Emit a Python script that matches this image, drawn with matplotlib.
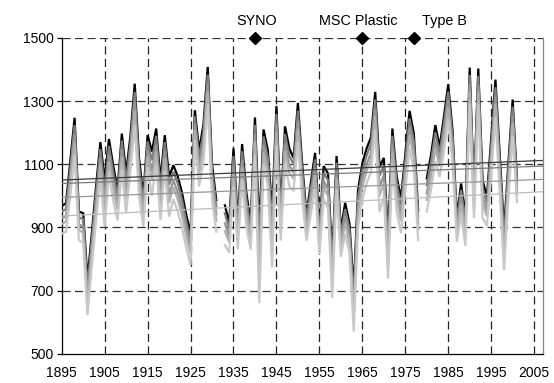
import numpy as np
import matplotlib
matplotlib.use("Agg")
import matplotlib.pyplot as plt

plt.rcParams['font.family'] = ['Liberation Sans', 'DejaVu Sans']

years = list(range(1895, 2002))
nan = float('nan')

s1 = [968, 976, 1110, 1247, 950, 945, 735, 880, 1030, 1170,
      1050, 1180, 1095, 1020, 1197, 1072, 1190, 1355, 1120, 1000,
      1192, 1140, 1213, 1050, 1192, 1060, 1097, 1062, 1010, 940,
      880, 1271, 1144, 1225, 1408, 1100, 986, nan, 970, 913,
      1150, 920, 1164, 1010, 913, 1248, 900, 1210, 1144, 950,
      1284, 954, 1220, 1150, 1120, 1294, 1100, 940, 1040, 1136,
      891, 1094, 1071, 797, 1126, 891, 978, 913, 702, 1018,
      1102, 1150, 1185, 1329, 1092, 1120, 870, 1213, 1060, 992,
      1130, 1269, 1197, 954, nan, 1055, 1130, 1224, 1155, 1250,
      1353, 1208, 934, 1039, 934, 1406, 1010, 1403, 1050, 995,
      1180, 1368, 1130, 891, 1100, 1305, 1050]
s2 = [950, 958, 1088, 1224, 932, 926, 712, 859, 1008, 1148,
      1020, 1158, 1073, 1000, 1175, 1047, 1168, 1329, 1096, 980,
      1172, 1112, 1190, 1025, 1170, 1035, 1076, 1040, 988, 919,
      860, 1252, 1121, 1202, 1384, 1078, 966, nan, 945, 894,
      1126, 902, 1141, 988, 896, 1224, 852, 1188, 1121, 915,
      1259, 935, 1196, 1126, 1100, 1269, 1078, 924, 1020, 1115,
      876, 1073, 1049, 773, 1105, 874, 958, 894, 676, 994,
      1080, 1128, 1163, 1305, 1063, 1096, 844, 1190, 1038, 970,
      1108, 1245, 1174, 935, nan, 1034, 1108, 1201, 1136, 1228,
      1330, 1186, 918, 1019, 915, 1383, 994, 1380, 1026, 977,
      1156, 1344, 1106, 866, 1078, 1282, 1036]
s3 = [928, 936, 1060, 1194, 910, 902, 684, 833, 980, 1120,
      983, 1130, 1046, 976, 1147, 1015, 1140, 1297, 1066, 956,
      1146, 1077, 1162, 993, 1142, 1003, 1049, 1012, 960, 893,
      835, 1228, 1093, 1173, 1355, 1050, 941, nan, 913, 871,
      1096, 880, 1113, 960, 876, 1195, 792, 1160, 1093, 870,
      1228, 911, 1166, 1096, 1074, 1238, 1050, 903, 995, 1088,
      857, 1047, 1021, 743, 1078, 853, 934, 871, 643, 965,
      1052, 1100, 1136, 1275, 1028, 1066, 811, 1162, 1010, 942,
      1080, 1215, 1144, 912, nan, 1008, 1080, 1173, 1112, 1200,
      1302, 1159, 898, 994, 892, 1354, 974, 1352, 996, 954,
      1126, 1315, 1076, 834, 1050, 1253, 1018]
s4 = [911, 918, 1038, 1171, 892, 883, 662, 812, 958, 1098,
      954, 1108, 1024, 956, 1124, 989, 1118, 1270, 1042, 936,
      1126, 1049, 1140, 968, 1119, 978, 1027, 989, 938, 872,
      815, 1209, 1070, 1150, 1331, 1028, 921, nan, 888, 853,
      1072, 862, 1090, 938, 859, 1171, 744, 1138, 1070, 835,
      1203, 892, 1142, 1072, 1054, 1213, 1028, 887, 975, 1067,
      842, 1026, 999, 718, 1057, 836, 914, 853, 616, 941,
      1029, 1078, 1114, 1252, 999, 1042, 784, 1140, 988, 920,
      1058, 1192, 1121, 893, nan, 987, 1058, 1150, 1093, 1178,
      1280, 1138, 883, 975, 874, 1331, 958, 1330, 972, 936,
      1102, 1291, 1052, 809, 1028, 1230, 1004]
s5 = [880, 886, 1000, 1130, 860, 850, 622, 775, 920, 1060,
      902, 1070, 985, 922, 1085, 945, 1080, 1225, 1000, 902,
      1090, 1000, 1100, 924, 1080, 934, 990, 950, 900, 835,
      780, 1176, 1030, 1110, 1290, 990, 886, nan, 844, 820,
      1030, 831, 1050, 900, 830, 1130, 660, 1100, 1030, 773,
      1160, 858, 1100, 1030, 1018, 1170, 990, 858, 940, 1030,
      816, 990, 960, 676, 1020, 807, 880, 820, 570, 900,
      990, 1040, 1075, 1210, 949, 1000, 738, 1100, 950, 881,
      1020, 1150, 1080, 860, nan, 950, 1020, 1110, 1060, 1140,
      1240, 1100, 855, 940, 841, 1290, 930, 1290, 930, 905,
      1060, 1250, 1010, 765, 990, 1190, 980]

series = [s1, s2, s3, s4, s5]
series_colors = ['#000000', '#7c7c7c', '#959595', '#afafaf', '#c8c8c8']

trend_x = [1895, 2007]
trend_start = [1050, 1039, 995, 936]
trend_end = [1112, 1094, 1052, 1013]
trend_colors = ['#3a3a3a', '#7a7a7a', '#959595', '#bdbdbd']

events = ['SYNO', 'MSC Plastic', 'Type B']
event_years = [1940, 1965, 1977]
label_x = [1940.4, 1964.1, 1984.1]

xticks = list(range(1895, 2006, 10))
yticks = [500, 700, 900, 1100, 1300, 1500]

fig = plt.figure(figsize=(5.54, 3.83), dpi=100)
ax = fig.add_axes([0.1114, 0.0765, 0.8682, 0.8245])
ax.set_xlim(1895, 2007)
ax.set_ylim(500, 1500)

for gx in xticks[1:]:
    ax.axvline(gx, color='#222222', lw=0.9, ls=(0, (6.5, 3.5)), zorder=1)
for gy in yticks[1:]:
    ax.axhline(gy, color='#333333', lw=0.9, ls=(0, (6.5, 3.5)), zorder=1)

for vals, c in zip(series, series_colors):
    ax.plot(years, np.array(vals, dtype=float), color=c, lw=1.6, zorder=3,
            solid_joinstyle='miter', clip_on=True)

for a, b, c in zip(trend_start, trend_end, trend_colors):
    ax.plot(trend_x, [a, b], color=c, lw=0.9, zorder=4)

ax.plot(event_years, [1500] * len(event_years), 'D', color='black', ms=6,
        zorder=6, clip_on=False)
for lx, t in zip(label_x, events):
    ax.text(lx, 1552, t, ha='center', va='center', fontsize=10.4)

ax.set_xticks(xticks)
ax.set_yticks(yticks)
ax.tick_params(axis='x', length=0, pad=9, labelsize=10)
ax.tick_params(axis='y', length=3.6, width=0.9, pad=2, labelsize=10)
ax.spines['top'].set_visible(False)
ax.spines['right'].set_color('#888888')
ax.spines['right'].set_linewidth(0.9)
ax.spines['left'].set_linewidth(0.9)
ax.spines['bottom'].set_linewidth(0.9)

fig.savefig('out.png', dpi=100)
